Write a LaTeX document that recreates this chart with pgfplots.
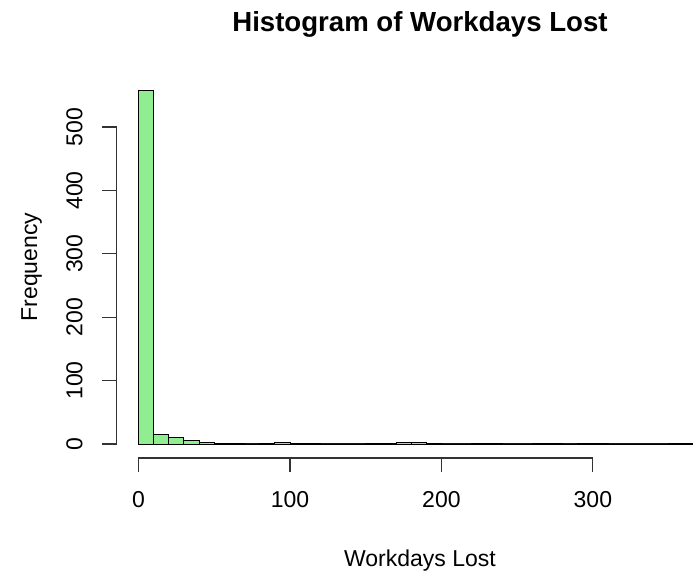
\documentclass[border=0pt]{standalone}
\usepackage{pgfplots}
\pgfplotsset{compat=1.18}
\usepackage{fontspec}
\setmainfont{Liberation Sans}
\definecolor{lightgreen}{HTML}{90EE90}
\begin{document}
\begin{tikzpicture}
\useasboundingbox (0,0) rectangle (693pt,576pt);
\begin{axis}[
  at={(116.5pt,118pt)}, anchor=south west,
  width=576.5pt, height=381pt, scale only axis,
  xmin=-14.52, xmax=366.1, ymin=-22.1, ymax=578.9,
  axis x line*=bottom, axis y line*=left,
  axis line style={draw=none},
  clip=true, clip mode=individual,
  xtick={0,100,200,300}, ytick={0,100,200,300,400,500},
  minor tick num=0,
  tick align=outside, major tick length=14pt,
  tick style={black!80, line width=1.1pt},
  /pgf/number format/assume math mode=true,
  ticklabel style={font=\fontsize{23}{27.6}\selectfont, text=black},
  xticklabel style={anchor=center, yshift=-28pt},
  yticklabel style={xshift=-28pt, rotate=90, anchor=center},
  title={Histogram of Workdays Lost},
  title style={font=\fontsize{27.6}{33}\selectfont\bfseries, at={(axis description cs:0.5264,1.1181)}, anchor=base, yshift=-6pt},
  xlabel={Workdays Lost},
  xlabel style={font=\fontsize{23}{27.6}\selectfont, at={(axis description cs:0.5264,-0.2835)}, anchor=base},
  ylabel={Frequency},
  ylabel style={font=\fontsize{23}{27.6}\selectfont, at={(axis description cs:-0.1379,0.5013)}, anchor=base, rotate=0},
]
% bottom edges of all bins (zero-count bins are drawn as flat lines)
\addplot[black, line width=1.3pt] coordinates {(0,0) (370,0)};
\addplot[ybar interval, fill=lightgreen, draw=black, line width=0.9pt] coordinates {
(0,557) (10,15) (20,10) (30,6) (40,3) (50,1) (60,1) (70,0) (80,1) (90,3)
(100,1) (110,1) (120,0) (130,0) (140,0) (150,1) (160,1) (170,3) (180,3) (190,1)
(200,0) (210,0) (220,1) (230,1) (240,0) (250,0) (260,1) (270,1) (280,0) (290,1)
(300,1) (310,0) (320,0) (330,0) (340,0) (350,1) (360,1) (370,0)
};
\draw[black!80, line width=1.1pt] (axis cs:0,-22.1) -- (axis cs:300,-22.1);
\draw[black!80, line width=1.1pt] (axis cs:-14.52,0) -- (axis cs:-14.52,500);
\end{axis}
\end{tikzpicture}
\end{document}
